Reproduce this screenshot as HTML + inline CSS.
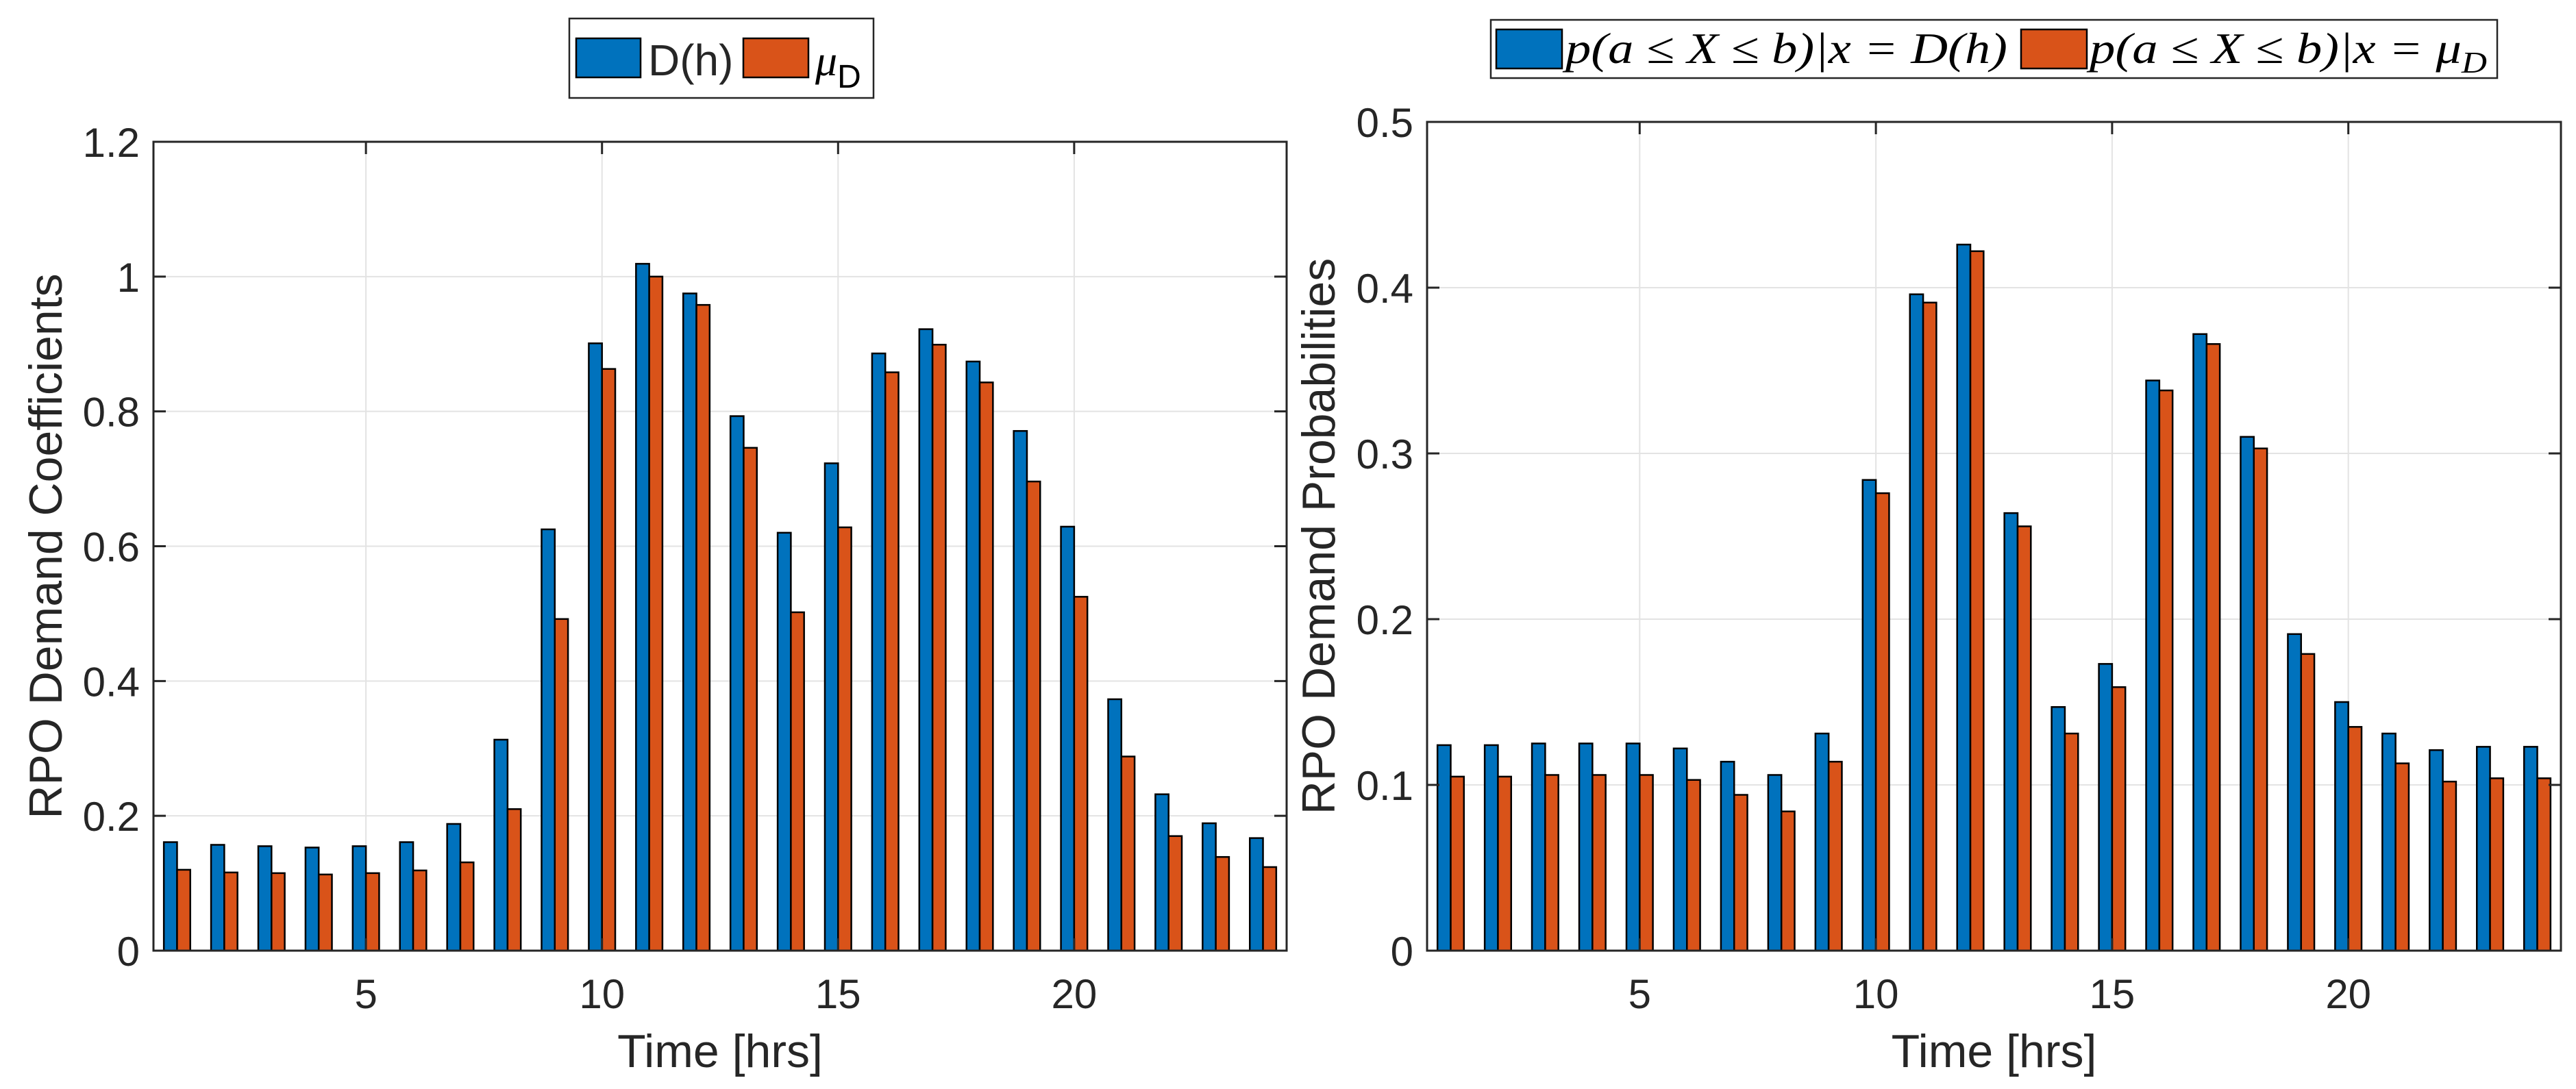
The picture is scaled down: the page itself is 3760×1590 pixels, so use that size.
<!DOCTYPE html>
<html><head><meta charset="utf-8"><style>
html,body{margin:0;padding:0;background:#fff;}
svg{display:block;}
text{font-family:"Liberation Sans",sans-serif;fill:#262626;}
.math{font-family:"Liberation Serif",serif;font-style:italic;fill:#000;}
</style></head><body>
<svg id="fig" width="3760" height="1590" viewBox="0 0 3760 1590" xmlns="http://www.w3.org/2000/svg">
<rect width="3760" height="1590" fill="#fff"/>
<g>
<rect x="831" y="27" width="444" height="116" fill="#fff" stroke="#262626" stroke-width="2.5"/>
<rect x="841" y="56" width="94" height="57" fill="#0072BD" stroke="#000" stroke-width="2.5"/>
<text x="946" y="110" font-size="64" fill="#000">D(h)</text>
<rect x="1085" y="56" width="95" height="57" fill="#D95319" stroke="#000" stroke-width="2.5"/>
<text x="1190" y="110" font-size="64" class="math">μ<tspan font-style="normal" font-family="Liberation Sans" font-size="48" dy="18">D</tspan></text>
</g>
<g>
<rect x="2176" y="29" width="1469" height="85" fill="#fff" stroke="#262626" stroke-width="2.5"/>
<rect x="2184" y="43" width="96" height="57" fill="#0072BD" stroke="#000" stroke-width="2.5"/>
<text x="2285" y="92" font-size="64" class="math" textLength="645" lengthAdjust="spacingAndGlyphs">p(a ≤ X ≤ b)|x = D(h)</text>
<rect x="2950" y="43" width="96" height="57" fill="#D95319" stroke="#000" stroke-width="2.5"/>
<text x="3050" y="92" font-size="64" class="math" textLength="580" lengthAdjust="spacingAndGlyphs">p(a ≤ X ≤ b)|x = μ<tspan font-size="44" dy="14">D</tspan></text>
</g>
<g id="left"></g>
<g id="right"></g>
</svg>
<script>
const hours = [1,2,3,4,5,6,7,8,9,10,11,12,13,14,15,16,17,18,19,20,21,22,23,24];
const coefD = [0.161,0.157,0.155,0.153,0.155,0.161,0.188,0.313,0.625,0.901,1.019,0.975,0.793,0.620,0.723,0.886,0.922,0.874,0.771,0.629,0.373,0.232,0.189,0.167];
const coefMu = [0.120,0.116,0.115,0.113,0.115,0.119,0.131,0.210,0.492,0.863,1.000,0.958,0.746,0.502,0.628,0.858,0.899,0.843,0.696,0.525,0.288,0.170,0.139,0.124];
const probD = [0.124,0.124,0.125,0.125,0.125,0.122,0.114,0.106,0.131,0.284,0.396,0.426,0.264,0.147,0.173,0.344,0.372,0.310,0.191,0.150,0.131,0.121,0.123,0.123];
const probMu = [0.105,0.105,0.106,0.106,0.106,0.103,0.094,0.084,0.114,0.276,0.391,0.422,0.256,0.131,0.159,0.338,0.366,0.303,0.179,0.135,0.113,0.102,0.104,0.104];
const xTicks = [5,10,15,20];
const yTicksLeft = [0,0.2,0.4,0.6,0.8,1,1.2];
const yTickLabelsLeft = ["0","0.2","0.4","0.6","0.8","1","1.2"];
const yTicksRight = [0,0.1,0.2,0.3,0.4,0.5];
const yTickLabelsRight = ["0","0.1","0.2","0.3","0.4","0.5"];

const NS = "http://www.w3.org/2000/svg";
function mk(parent, tag, attrs, txt){
  const e = document.createElementNS(NS, tag);
  for (const k in attrs) e.setAttribute(k, attrs[k]);
  if (txt !== undefined) e.textContent = txt;
  parent.appendChild(e);
  return e;
}
function drawPanel(g, L, T, R, B, ymax, yTicks, yLabels, s1, s2, ytitle, ytitleX, pfx){
  const xs = v => L + (v - 0.5) / 24 * (R - L);
  const ys = v => B - v / ymax * (B - T);
  const grid = mk(g, 'g', {});
  
  
  xTicks.forEach(t => mk(grid, 'line', {x1: xs(t), x2: xs(t), y1: T, y2: B, stroke: '#e3e3e3', 'stroke-width': 2}));
  yTicks.forEach(t => mk(grid, 'line', {x1: L, x2: R, y1: ys(t), y2: ys(t), stroke: '#e3e3e3', 'stroke-width': 2}));
  const bw = 0.28;
  hours.forEach((h, i) => {
    const b1 = mk(g, 'rect', {x: xs(h - bw), y: ys(s1[i]), width: xs(bw) - xs(0), height: ys(0) - ys(s1[i]), fill: '#0072BD', stroke: '#000', 'stroke-width': 2.5});
    
    
    const b2 = mk(g, 'rect', {x: xs(h), y: ys(s2[i]), width: xs(bw) - xs(0), height: ys(0) - ys(s2[i]), fill: '#D95319', stroke: '#000', 'stroke-width': 2.5});
    
    
  });
  const ax = mk(g, 'g', {});
  
  
  mk(ax, 'rect', {x: L, y: T, width: R - L, height: B - T, fill: 'none', stroke: '#262626', 'stroke-width': 3});
  const tl = 18;
  xTicks.forEach(t => {
    mk(ax, 'line', {x1: xs(t), x2: xs(t), y1: B, y2: B - tl, stroke: '#262626', 'stroke-width': 3});
    mk(ax, 'line', {x1: xs(t), x2: xs(t), y1: T, y2: T + tl, stroke: '#262626', 'stroke-width': 3});
    const lb = mk(ax, 'text', {x: xs(t), y: B + 84, 'font-size': 60, 'text-anchor': 'middle'}, String(t));
    
    
  });
  yTicks.forEach((t, i) => {
    mk(ax, 'line', {x1: L, x2: L + tl, y1: ys(t), y2: ys(t), stroke: '#262626', 'stroke-width': 3});
    mk(ax, 'line', {x1: R, x2: R - tl, y1: ys(t), y2: ys(t), stroke: '#262626', 'stroke-width': 3});
    const lb = mk(ax, 'text', {x: L - 20, y: ys(t) + 22, 'font-size': 60, 'text-anchor': 'end'}, yLabels[i]);
    
    
  });
  const xt = mk(g, 'text', {x: (L + R) / 2, y: 1558, 'font-size': 68, 'text-anchor': 'middle'}, 'Time [hrs]');
  
  
  const yt = mk(g, 'text', {x: 0, y: 0, 'font-size': 68, 'text-anchor': 'middle', transform: 'translate(' + ytitleX + ',' + ((T + B) / 2) + ') rotate(-90)'}, ytitle);
  
  
}
drawPanel(document.getElementById('left'), 224, 207, 1878, 1388, 1.2, yTicksLeft, yTickLabelsLeft, coefD, coefMu, 'RPO Demand Coefficients', 90, 'left');
drawPanel(document.getElementById('right'), 2083, 178, 3738, 1388, 0.5, yTicksRight, yTickLabelsRight, probD, probMu, 'RPO Demand Probabilities', 1948, 'right');
</script>
</body></html>
